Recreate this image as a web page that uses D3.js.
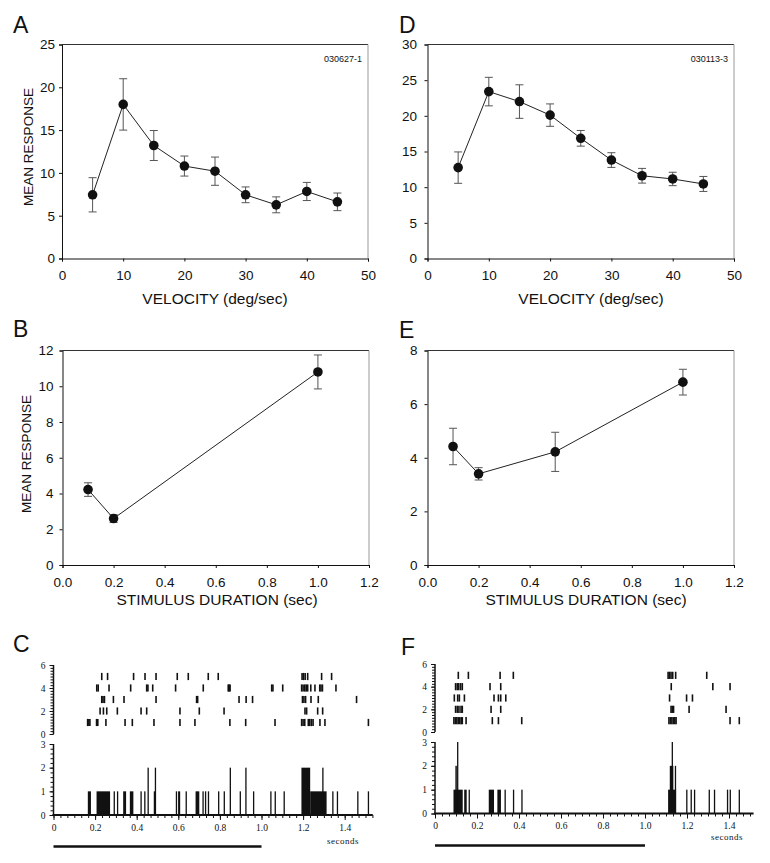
<!DOCTYPE html>
<html>
<head>
<meta charset="utf-8">
<script src="https://cdn.jsdelivr.net/npm/d3@7"></script>
<style>
  body { margin: 0; background: #fff; }
  svg text { font-family: "Liberation Sans", Arial, sans-serif; fill: #111; }
  svg .serif text, svg text.serif { font-family: "Liberation Serif", "Times New Roman", serif; }
</style>
</head>
<body>
<svg id="fig" width="770" height="863"></svg>
<script>
// velocity tuning (A, D)
const velocity = [5, 10, 15, 20, 25, 30, 35, 40, 45];
const respA = [7.44, 18.0, 13.2, 10.8, 10.2, 7.44, 6.27, 7.83, 6.62];
const semA  = [2.0, 3.0, 1.75, 1.17, 1.65, 0.92, 0.93, 1.06, 1.03];
const respD = [12.74, 23.4, 22.0, 20.1, 16.85, 13.8, 11.6, 11.15, 10.45];
const semD  = [2.2, 2.0, 2.35, 1.57, 1.1, 1.03, 1.03, 0.94, 1.05];

// stimulus duration (B, E)
const durB  = [0.1, 0.2, 1.0];
const respB = [4.22, 2.6, 10.8];
const semB  = [0.38, 0.22, 0.95];
const durE  = [0.1, 0.2, 0.5, 1.0];
const respE = [4.42, 3.4, 4.22, 6.82];
const semE  = [0.68, 0.23, 0.73, 0.48];

const velTicks = [0, 10, 20, 30, 40, 50];
const durTicks = [0, 0.2, 0.4, 0.6, 0.8, 1.0, 1.2];

// rasters: one array of spike times (sec) per trial, trial 1 first
const rasterC = [
  [0.164,0.170,0.175,0.207,0.213,0.252,0.344,0.379,0.483,0.608,0.680,0.848,0.924,1.065,1.193,1.200,1.208,1.225,1.232,1.240,1.248,1.281,1.305,1.514],
  [0.224,0.240,0.256,0.307,0.421,0.448,0.608,0.701,0.820,1.209,1.217,1.270,1.294],
  [0.232,0.238,0.245,0.288,0.339,0.493,0.688,0.693,0.892,0.926,0.957,1.197,1.204,1.212,1.238,1.273,1.457],
  [0.208,0.215,0.267,0.371,0.448,0.454,0.477,0.587,0.720,0.840,0.845,0.849,1.049,1.055,1.102,1.193,1.200,1.208,1.215,1.222,1.237,1.257,1.280,1.286,1.293,1.358],
  [0.232,0.260,0.385,0.440,0.493,0.595,0.648,0.744,0.792,1.195,1.202,1.210,1.222,1.289,1.337]
];
const rasterF = [
  [0.090,0.097,0.104,0.111,0.118,0.125,0.130,0.148,0.273,0.302,0.413,1.114,1.121,1.128,1.135,1.142,1.148,1.405,1.449],
  [0.098,0.106,0.114,0.124,0.130,0.267,0.313,1.124,1.130,1.136,1.210,1.386],
  [0.092,0.108,0.116,0.140,0.281,0.302,0.313,0.337,1.117,1.198,1.226],
  [0.098,0.106,0.113,0.122,0.130,0.262,0.313,1.125,1.323,1.405],
  [0.111,0.159,0.310,0.373,1.110,1.117,1.124,1.132,1.146,1.294]
];

// PSTH runs: [start, end, count]
const histC = [
  [0.165,0.180,1],[0.207,0.272,1],[0.289,0.293,1],[0.305,0.309,1],[0.335,0.349,1],
  [0.367,0.384,1],[0.418,0.422,1],[0.436,0.440,1],[0.452,0.456,2],[0.482,0.486,1],
  [0.487,0.491,2],[0.588,0.592,1],[0.599,0.609,1],[0.635,0.639,1],[0.683,0.701,1],
  [0.716,0.720,1],[0.728,0.732,1],[0.742,0.746,1],[0.791,0.795,1],[0.818,0.822,1],
  [0.847,0.851,2],[0.895,0.899,1],[0.922,0.926,2],[0.959,0.963,1],[1.042,1.046,1],
  [1.063,1.067,1],[1.106,1.110,1],[1.192,1.234,2],[1.234,1.313,1],[1.292,1.296,2],
  [1.340,1.344,1],[1.362,1.366,1],[1.460,1.464,1],[1.511,1.515,1]
];
const histF = [
  [0.088,0.132,1],[0.097,0.104,2],[0.105,0.108,3],[0.139,0.151,1],[0.160,0.164,1],
  [0.256,0.281,1],[0.297,0.314,1],[0.331,0.335,1],[0.371,0.375,1],[0.411,0.415,1],
  [1.110,1.148,1],[1.118,1.135,2],[1.127,1.131,3],[1.142,1.146,2],[1.196,1.200,1],
  [1.217,1.221,1],[1.233,1.237,1],[1.303,1.307,1],[1.328,1.332,1],[1.390,1.394,1],
  [1.403,1.407,1],[1.446,1.450,1]
];
const stimDuration = 1.0;
const timeTicks = [0, 0.2, 0.4, 0.6, 0.8, 1.0, 1.2, 1.4];

const svg = d3.select('#fig');

function panelLetter(txt, x, y) {
  svg.append('text').attr('x', x).attr('y', y).attr('font-size', 23).text(txt);
}

function tuningPanel(p) {
  const x = d3.scaleLinear().domain(p.xDomain).range([p.left, p.right]);
  const y = d3.scaleLinear().domain(p.yDomain).range([p.bottom, p.top]);
  const g = svg.append('g');

  g.append('line').attr('x1', p.left).attr('x2', p.right).attr('y1', p.top).attr('y2', p.top)
    .attr('stroke', '#333');
  g.append('line').attr('x1', p.right).attr('x2', p.right).attr('y1', p.top).attr('y2', p.bottom)
    .attr('stroke', '#999');

  const xa = g.append('g').attr('transform', `translate(0,${p.bottom})`)
    .call(d3.axisBottom(x).tickValues(p.xTicks).tickFormat(p.xFormat).tickSize(3).tickPadding(9));
  const ya = g.append('g').attr('transform', `translate(${p.left},0)`)
    .call(d3.axisLeft(y).ticks(p.yTicks).tickFormat(d3.format('d')).tickSize(3).tickPadding(p.yPad));
  [xa, ya].forEach(a => {
    a.selectAll('text').attr('font-size', 13.5);
    a.selectAll('path,line').attr('stroke', '#111');
  });

  g.append('text').attr('x', p.xTitleX).attr('y', p.xTitleY).attr('text-anchor', 'middle')
    .attr('font-size', 15.5).text(p.xTitle);
  if (p.yTitle) {
    g.append('text').attr('transform', `translate(${p.yTitleX},${p.yTitleY}) rotate(-90)`)
      .attr('text-anchor', 'middle').attr('font-size', 13.5).text(p.yTitle);
  }
  if (p.cellId) {
    g.append('text').attr('x', p.right - 6).attr('y', p.top + 17).attr('text-anchor', 'end')
      .attr('font-size', 9).text(p.cellId);
  }

  const pts = p.xs.map((v, i) => ({x: v, m: p.ms[i], e: p.es[i]}));
  g.append('path').datum(pts)
    .attr('fill', 'none').attr('stroke', '#222').attr('stroke-width', 1)
    .attr('d', d3.line().x(d => x(d.x)).y(d => y(d.m)));

  const eb = g.selectAll('.eb').data(pts).join('g').attr('stroke', '#555').attr('stroke-width', 1);
  eb.append('line').attr('x1', d => x(d.x)).attr('x2', d => x(d.x))
    .attr('y1', d => y(d.m - d.e)).attr('y2', d => y(d.m + d.e));
  eb.append('line').attr('x1', d => x(d.x) - 4).attr('x2', d => x(d.x) + 4)
    .attr('y1', d => y(d.m + d.e)).attr('y2', d => y(d.m + d.e));
  eb.append('line').attr('x1', d => x(d.x) - 4).attr('x2', d => x(d.x) + 4)
    .attr('y1', d => y(d.m - d.e)).attr('y2', d => y(d.m - d.e));

  g.selectAll('.pt').data(pts).join('circle')
    .attr('cx', d => x(d.x)).attr('cy', d => y(d.m)).attr('r', 4.8).attr('fill', '#111');
}

function rasterPanel(p) {
  const x = d3.scaleLinear().domain([0, p.tMax]).range([p.x0, p.x0 + p.tMax * p.pps]);
  const yR = d3.scaleLinear().domain([0, 6]).range([p.rBottom, p.rTop]);
  const yH = d3.scaleLinear().domain([0, 3]).range([p.hBottom, p.hTop]);
  const g = svg.append('g').attr('class', 'serif');

  // raster ticks
  p.rows.forEach((times, i) => {
    g.append('g').selectAll('line').data(times).join('line')
      .attr('x1', t => x(t)).attr('x2', t => x(t))
      .attr('y1', yR(i + 1) - 3.6).attr('y2', yR(i + 1) + 3.6)
      .attr('stroke', '#111').attr('stroke-width', 1.6);
  });

  // histogram
  g.append('g').selectAll('rect').data(p.hist).join('rect')
    .attr('x', d => x(d[0]))
    .attr('width', d => Math.max(1.3, x(d[1]) - x(d[0])))
    .attr('y', d => yH(d[2]))
    .attr('height', d => yH(0) - yH(d[2]))
    .attr('fill', '#111');

  const styleAxis = a => {
    a.select('.domain').remove();
    a.selectAll('line').attr('stroke', '#111');
    a.selectAll('text').attr('font-size', 9.5).attr('fill', '#111');
  };

  // y axes with dense minor ticks
  const yAxes = [[yR, d3.range(0, 6.001, 0.25), [0, 2, 4, 6]], [yH, d3.range(0, 3.001, 0.2), [0, 1, 2, 3]]];
  yAxes.forEach(([sc, minor, major]) => {
    g.append('g').attr('transform', `translate(${p.x0},0)`)
      .call(d3.axisLeft(sc).tickValues(minor).tickSize(3).tickFormat(''))
      .call(styleAxis);
    g.append('g').attr('transform', `translate(${p.x0},0)`)
      .call(d3.axisLeft(sc).tickValues(major).tickSize(4).tickPadding(4).tickFormat(d3.format('d')))
      .call(styleAxis);
    g.append('line').attr('x1', p.x0).attr('x2', p.x0)
      .attr('y1', sc.range()[0]).attr('y2', sc.range()[1])
      .attr('stroke', '#111').attr('stroke-width', 1.5);
  });

  // time axis
  g.append('g').attr('transform', `translate(0,${p.hBottom})`)
    .call(d3.axisBottom(x).tickValues(d3.range(0, p.tMax, 0.2 / 6)).tickSize(3).tickFormat(''))
    .call(styleAxis);
  g.append('g').attr('transform', `translate(0,${p.hBottom})`)
    .call(d3.axisBottom(x).tickValues(timeTicks).tickSize(5).tickPadding(4)
      .tickFormat(d => d === 0 ? '0' : d3.format('.1f')(d)))
    .call(styleAxis);
  g.append('line').attr('x1', x(0) - 1).attr('x2', x(p.tMax))
    .attr('y1', p.hBottom).attr('y2', p.hBottom)
    .attr('stroke', '#111').attr('stroke-width', 2);

  g.append('text').attr('x', p.secX).attr('y', p.secY).attr('text-anchor', 'middle')
    .attr('font-size', 9).attr('letter-spacing', 0.5).text('seconds');

  // stimulus bar
  g.append('line').attr('x1', x(0)).attr('x2', x(stimDuration))
    .attr('y1', p.barY).attr('y2', p.barY)
    .attr('stroke', '#111').attr('stroke-width', 2.6);
}

tuningPanel({
  left: 62, right: 368, top: 44.5, bottom: 258.5,
  xDomain: [0, 50], yDomain: [0, 25], xTicks: velTicks, xFormat: d3.format('d'), yTicks: 5, yPad: 4,
  xs: velocity, ms: respA, es: semA,
  xTitle: 'VELOCITY (deg/sec)', xTitleX: 215, xTitleY: 304,
  yTitle: 'MEAN RESPONSE', yTitleX: 33, yTitleY: 147, cellId: '030627-1'
});
tuningPanel({
  left: 427.5, right: 734, top: 44.5, bottom: 258.5,
  xDomain: [0, 50], yDomain: [0, 30], xTicks: velTicks, xFormat: d3.format('d'), yTicks: 6, yPad: 7.5,
  xs: velocity, ms: respD, es: semD,
  xTitle: 'VELOCITY (deg/sec)', xTitleX: 591, xTitleY: 304, cellId: '030113-3'
});
tuningPanel({
  left: 62.5, right: 369, top: 350.5, bottom: 565,
  xDomain: [0, 1.2], yDomain: [0, 12], xTicks: durTicks, xFormat: d3.format('.1f'), yTicks: 6, yPad: 6,
  xs: durB, ms: respB, es: semB,
  xTitle: 'STIMULUS DURATION (sec)', xTitleX: 217, xTitleY: 605,
  yTitle: 'MEAN RESPONSE', yTitleX: 31, yTitleY: 454
});
tuningPanel({
  left: 427.5, right: 734, top: 350.5, bottom: 565,
  xDomain: [0, 1.2], yDomain: [0, 8], xTicks: durTicks, xFormat: d3.format('.1f'), yTicks: 4, yPad: 7,
  xs: durE, ms: respE, es: semE,
  xTitle: 'STIMULUS DURATION (sec)', xTitleX: 586, xTitleY: 605
});

rasterPanel({
  x0: 53.5, pps: 208, tMax: 1.535, rTop: 665, rBottom: 734, hTop: 744, hBottom: 815,
  rows: rasterC, hist: histC, secX: 343, secY: 844, barY: 846.5
});
rasterPanel({
  x0: 435, pps: 210, tMax: 1.517, rTop: 664, rBottom: 732, hTop: 742, hBottom: 813.5,
  rows: rasterF, hist: histF, secX: 727, secY: 840, barY: 845.5
});

panelLetter('A', 13, 33);
panelLetter('D', 399, 33);
panelLetter('B', 13, 337);
panelLetter('E', 399, 338);
panelLetter('C', 13, 652);
panelLetter('F', 401, 655);
</script>
</body>
</html>
